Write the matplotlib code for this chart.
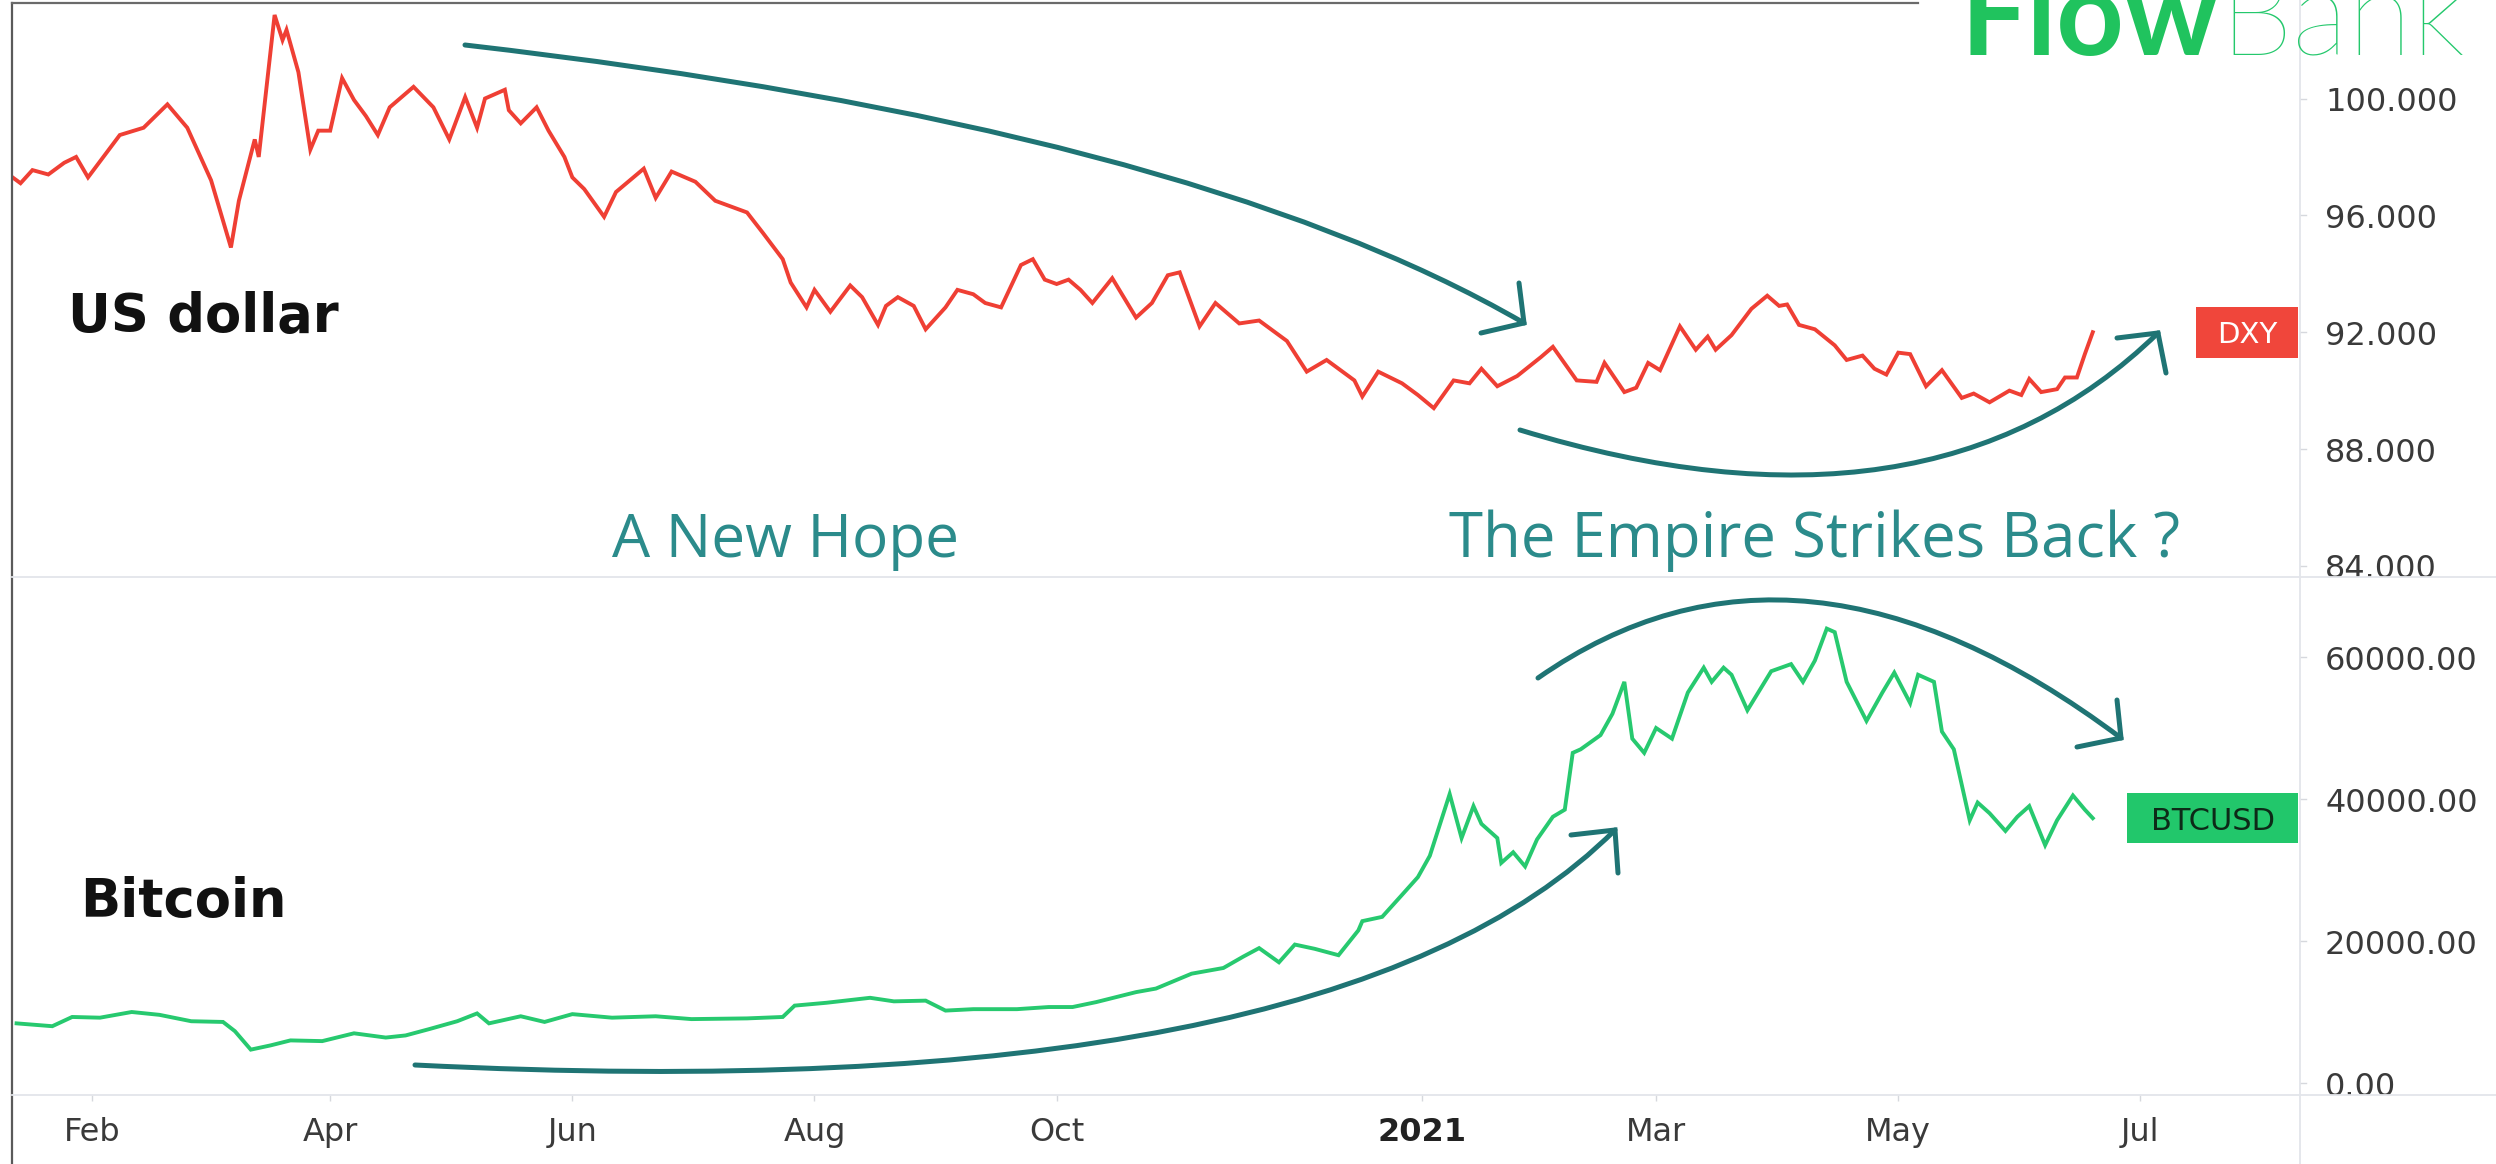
import matplotlib
matplotlib.use('Agg')
import matplotlib.pyplot as plt
import matplotlib.dates as mdates
import matplotlib.transforms as mtrans
from matplotlib.path import Path
from matplotlib.patches import PathPatch, Rectangle
from matplotlib.lines import Line2D
import pandas as pd

# ---------------- data ----------------
dxy_dates = [
    '2020-01-12', '2020-01-14', '2020-01-17', '2020-01-21', '2020-01-25', '2020-01-28', '2020-01-31',
    '2020-02-08', '2020-02-14', '2020-02-20', '2020-02-25', '2020-03-02', '2020-03-07', '2020-03-09',
    '2020-03-13', '2020-03-14', '2020-03-18', '2020-03-20', '2020-03-21', '2020-03-24', '2020-03-27',
    '2020-03-29', '2020-04-01', '2020-04-04', '2020-04-07', '2020-04-10', '2020-04-13', '2020-04-16',
    '2020-04-22', '2020-04-27', '2020-05-01', '2020-05-05', '2020-05-08', '2020-05-10', '2020-05-15',
    '2020-05-16', '2020-05-19', '2020-05-23', '2020-05-26', '2020-05-30', '2020-06-01', '2020-06-04',
    '2020-06-09', '2020-06-12', '2020-06-19', '2020-06-22', '2020-06-26', '2020-07-02', '2020-07-07',
    '2020-07-15', '2020-07-19', '2020-07-24', '2020-07-26', '2020-07-30', '2020-08-01', '2020-08-05',
    '2020-08-10', '2020-08-13', '2020-08-17', '2020-08-19', '2020-08-22', '2020-08-26', '2020-08-29',
    '2020-09-03', '2020-09-06', '2020-09-10', '2020-09-13', '2020-09-17', '2020-09-22', '2020-09-25',
    '2020-09-28', '2020-10-01', '2020-10-04', '2020-10-07', '2020-10-10', '2020-10-15', '2020-10-21',
    '2020-10-25', '2020-10-29', '2020-11-01', '2020-11-06', '2020-11-10', '2020-11-16', '2020-11-21',
    '2020-11-28', '2020-12-03', '2020-12-08', '2020-12-15', '2020-12-17', '2020-12-21', '2020-12-27',
    '2020-12-31', '2021-01-04', '2021-01-09', '2021-01-13', '2021-01-16', '2021-01-20', '2021-01-25',
    '2021-01-31', '2021-02-03', '2021-02-09', '2021-02-14', '2021-02-16', '2021-02-21', '2021-02-24',
    '2021-02-27', '2021-03-02', '2021-03-07', '2021-03-11', '2021-03-14', '2021-03-16', '2021-03-20',
    '2021-03-25', '2021-03-29', '2021-04-01', '2021-04-03', '2021-04-06', '2021-04-10', '2021-04-15',
    '2021-04-18', '2021-04-22', '2021-04-25', '2021-04-28', '2021-05-01', '2021-05-04', '2021-05-08',
    '2021-05-12', '2021-05-17', '2021-05-20', '2021-05-24', '2021-05-29', '2021-06-01', '2021-06-03',
    '2021-06-06', '2021-06-10', '2021-06-12', '2021-06-15', '2021-06-17', '2021-06-19',
]
dxy_values = [
    97.3, 97.1, 97.55, 97.4, 97.8, 98.0, 97.3,
    98.75, 99.0, 99.8, 99.0, 97.2, 94.9, 96.5,
    98.6, 98.0, 102.86, 102.0, 102.35, 100.9, 98.25,
    98.9, 98.9, 100.7, 99.95, 99.4, 98.75, 99.7,
    100.4, 99.7, 98.6, 100.05, 99.0, 100.0, 100.3,
    99.6, 99.15, 99.7, 98.9, 98.0, 97.3, 96.9,
    95.95, 96.8, 97.6, 96.6, 97.5, 97.15, 96.5,
    96.1, 95.4, 94.5, 93.7, 92.85, 93.45, 92.7,
    93.6, 93.2, 92.25, 92.9, 93.2, 92.9, 92.1,
    92.85, 93.45, 93.3, 93.0, 92.85, 94.3, 94.5,
    93.8, 93.65, 93.8, 93.45, 93.0, 93.85, 92.5,
    93.0, 93.95, 94.05, 92.2, 93.0, 92.3, 92.4,
    91.7, 90.65, 91.05, 90.35, 89.8, 90.65, 90.25,
    89.85, 89.4, 90.35, 90.25, 90.75, 90.15, 90.5,
    91.15, 91.5, 90.35, 90.3, 90.95, 89.95, 90.1,
    90.95, 90.7, 92.2, 91.4, 91.85, 91.4, 91.9,
    92.8, 93.25, 92.9, 92.95, 92.25, 92.1, 91.55,
    91.05, 91.2, 90.75, 90.55, 91.3, 91.25, 90.15,
    90.7, 89.75, 89.9, 89.6, 90.0, 89.85, 90.4,
    89.95, 90.05, 90.45, 90.45, 91.25, 92.0,
]

btc_dates = [
    '2020-01-13', '2020-01-22', '2020-01-27', '2020-02-03', '2020-02-11', '2020-02-18', '2020-02-26',
    '2020-03-05', '2020-03-08', '2020-03-12', '2020-03-17', '2020-03-22', '2020-03-30', '2020-04-07',
    '2020-04-15', '2020-04-20', '2020-04-26', '2020-05-03', '2020-05-08', '2020-05-11', '2020-05-19',
    '2020-05-25', '2020-06-01', '2020-06-11', '2020-06-22', '2020-07-01', '2020-07-15', '2020-07-24',
    '2020-07-27', '2020-08-04', '2020-08-15', '2020-08-21', '2020-08-29', '2020-09-03', '2020-09-10',
    '2020-09-21', '2020-09-29', '2020-10-05', '2020-10-11', '2020-10-21', '2020-10-26', '2020-11-04',
    '2020-11-12', '2020-11-17', '2020-11-21', '2020-11-26', '2020-11-30', '2020-12-05', '2020-12-11',
    '2020-12-16', '2020-12-17', '2020-12-22', '2020-12-27', '2020-12-31', '2021-01-03', '2021-01-08',
    '2021-01-11', '2021-01-14', '2021-01-16', '2021-01-20', '2021-01-21', '2021-01-24', '2021-01-27',
    '2021-01-30', '2021-02-03', '2021-02-06', '2021-02-08', '2021-02-10', '2021-02-15', '2021-02-18',
    '2021-02-21', '2021-02-23', '2021-02-26', '2021-03-01', '2021-03-05', '2021-03-09', '2021-03-13',
    '2021-03-15', '2021-03-18', '2021-03-20', '2021-03-24', '2021-03-30', '2021-04-04', '2021-04-07',
    '2021-04-10', '2021-04-13', '2021-04-15', '2021-04-18', '2021-04-23', '2021-04-27', '2021-04-30',
    '2021-05-04', '2021-05-06', '2021-05-10', '2021-05-12', '2021-05-15', '2021-05-17', '2021-05-19',
    '2021-05-21', '2021-05-24', '2021-05-28', '2021-05-31', '2021-06-03', '2021-06-07', '2021-06-10',
    '2021-06-14', '2021-06-17', '2021-06-19',
]
btc_values = [
    8400, 8000, 9300, 9200, 10000, 9600, 8700,
    8600, 7300, 4700, 5300, 6000, 5900, 7000,
    6400, 6700, 7600, 8700, 9800, 8400, 9400,
    8600, 9700, 9200, 9400, 9000, 9100, 9300,
    10900, 11300, 12000, 11500, 11600, 10200, 10400,
    10400, 10700, 10700, 11400, 12800, 13300, 15400,
    16200, 17800, 19000, 17000, 19500, 18900, 18000,
    21500, 22800, 23400, 26500, 29000, 32000, 40700,
    34500, 39000, 36500, 34500, 31000, 32500, 30500,
    34300, 37500, 38500, 46500, 47000, 49000, 52000,
    56500, 48500, 46500, 50000, 48500, 55000, 58500,
    56500, 58500, 57500, 52500, 58000, 59000, 56500,
    59500, 64000, 63500, 56500, 51000, 55000, 57800,
    53500, 57500, 56500, 49500, 47000, 42000, 37000,
    39500, 38000, 35500, 37500, 39000, 33500, 37000,
    40500, 38500, 37300,
]

month_ticks = ['2020-02-01', '2020-04-01', '2020-06-01', '2020-08-01', '2020-10-01',
               '2021-01-01', '2021-03-01', '2021-05-01', '2021-07-01']
month_labels = ['Feb', 'Apr', 'Jun', 'Aug', 'Oct', '2021', 'Mar', 'May', 'Jul']
dxy_ticks = [84, 88, 92, 96, 100]
btc_ticks = [0, 20000, 40000, 60000]

# ---------------- style ----------------
W, H, DPI = 2496, 1164, 100
RED = '#ef3f34'
GREEN = '#27c96f'
TEAL_TXT = '#2b8b8b'
TEAL_ARR = '#1f7474'
LABEL_C = '#3a3a3a'
GRID_C = '#e3e5ea'

fig = plt.figure(figsize=(W / DPI, H / DPI), dpi=DPI)
fig.patch.set_facecolor('white')


def fx(x):
    return x / W


def fy(y):
    return 1 - y / H


PL, PR = 12, 2300
ax1 = fig.add_axes([fx(PL), fy(577), (PR - PL) / W, (577 - 3) / H])
ax2 = fig.add_axes([fx(PL), fy(1095), (PR - PL) / W, (1095 - 577) / H])
ax1p = fig.add_axes([fx(PR), fy(577), (W - PR) / W, (577 - 3) / H])
ax2p = fig.add_axes([fx(PR), fy(1095), (W - PR) / W, (1095 - 577) / H])

x0 = mdates.date2num(pd.Timestamp('2020-02-01'))
xlim = (x0 - 20.15, x0 + 556.2)
ylim1 = (83.62, 103.27)
ylim2 = (-1690, 71270)

ax1.plot(pd.to_datetime(dxy_dates), dxy_values, color=RED, lw=2.8,
         solid_joinstyle='miter', zorder=3)
ax2.plot(pd.to_datetime(btc_dates), btc_values, color=GREEN, lw=2.8,
         solid_joinstyle='miter', zorder=3)

for ax, yl in ((ax1, ylim1), (ax2, ylim2)):
    ax.set_xlim(xlim)
    ax.set_ylim(yl)
    ax.set_facecolor('none')
    for s in ax.spines.values():
        s.set_visible(False)
    ax.set_yticks([])

ax1.set_xticks([])
ax2.set_xticks(pd.to_datetime(month_ticks))
ax2.set_xticklabels(month_labels)
ax2.tick_params(axis='x', direction='out', length=4, width=1, color='#d6d8dd',
                pad=12, labelsize=23, labelcolor=LABEL_C)
for lab in ax2.get_xticklabels():
    if lab.get_text() == '2021':
        lab.set_fontweight('bold')
        lab.set_color('#222222')

# price scales
for axp, yl, ticks, fmt in ((ax1p, ylim1, dxy_ticks, '{:.3f}'), (ax2p, ylim2, btc_ticks, '{:.2f}')):
    axp.set_xlim(0, 1)
    axp.set_ylim(yl)
    axp.axis('off')
    shift = axp.transData + mtrans.ScaledTranslation(0, -4 / DPI, fig.dpi_scale_trans)
    for v in ticks:
        axp.text(0.128, v, fmt.format(v), ha='left', va='center', fontsize=23,
                 color=LABEL_C, clip_on=True, transform=shift)
        axp.plot([0, 0.03], [v, v], color='#d6d8dd', lw=1)

# frame lines
fig.add_artist(Line2D([fx(PL), fx(PL)], [fy(3), 0], color='#5a5a5a', lw=1.6, transform=fig.transFigure))
fig.add_artist(Line2D([fx(PL), fx(1918)], [fy(3), fy(3)], color='#6a6a6a', lw=1.6, transform=fig.transFigure))
fig.add_artist(Line2D([fx(PR), fx(PR)], [1, 0], color=GRID_C, lw=1.3, transform=fig.transFigure))
fig.add_artist(Line2D([fx(PL), 1], [fy(577), fy(577)], color=GRID_C, lw=1.3, transform=fig.transFigure))
fig.add_artist(Line2D([fx(PL), 1], [fy(1095), fy(1095)], color=GRID_C, lw=1.3, transform=fig.transFigure))


# last value boxes
def last_box(ax, value, text, fc, tc, xl_px, xr_px, h_px, fs, weight):
    ppd = ax.bbox.height / (ax.get_ylim()[1] - ax.get_ylim()[0])
    h = h_px / ppd
    trans = mtrans.blended_transform_factory(ax.transAxes, ax.transData)
    a = (xl_px - PL) / (PR - PL)
    b = (xr_px - PL) / (PR - PL)
    ax.add_patch(Rectangle((a, value - h / 2), b - a, h, transform=trans, fc=fc,
                           ec='none', clip_on=False, zorder=5))
    ax.text((a + b) / 2, value, text, transform=trans, ha='center', va='center_baseline',
            color=tc, fontsize=fs, fontweight=weight, zorder=6)


last_box(ax1, dxy_values[-1], 'DXY', '#f0463b', 'white', 2196, 2298, 51, 21, 'normal')
last_box(ax2, btc_values[-1], 'BTCUSD', '#22c76b', '#0d2a18', 2127, 2298, 50, 22, 'normal')

# pane titles and captions
ax1.text((68 - PL) / (PR - PL), (577 - 332) / 574, 'US dollar', transform=ax1.transAxes,
         fontsize=38, fontweight='bold', color='#111111', ha='left', va='baseline')
ax2.text((80 - PL) / (PR - PL), (1095 - 917) / 518, 'Bitcoin', transform=ax2.transAxes,
         fontsize=38, fontweight='bold', color='#111111', ha='left', va='baseline')
ax1.text((785 - PL) / (PR - PL), (577 - 557) / 574, 'A New Hope', transform=ax1.transAxes,
         fontsize=43.5, family='Open Sans', color=TEAL_TXT, ha='center', va='baseline')
ax1.text((1815 - PL) / (PR - PL), (577 - 557) / 574, 'The Empire Strikes Back ?',
         transform=ax1.transAxes, fontsize=44.5, family='Open Sans', color=TEAL_TXT,
         ha='center', va='baseline')

# logo
fig.text(fx(1961), fy(55), 'Flow', fontsize=85, family='Lato', fontweight='bold',
         color='#20c35e', ha='left', va='baseline')
fig.text(fx(2219), fy(55), 'Bank', fontsize=85, family='Lato', fontweight='light',
         color='#24c86c', ha='left', va='baseline')


# hand-drawn style arrows
def p(pt):
    return (fx(pt[0]), fy(pt[1]))


def arrow(S, C, E, arm1, arm2):
    path = Path([p(S), p(C), p(E)], [Path.MOVETO, Path.CURVE3, Path.CURVE3])
    fig.add_artist(PathPatch(path, fill=False, ec=TEAL_ARR, lw=3.6, capstyle='round',
                             transform=fig.transFigure))
    xs = [p(arm1)[0], p(E)[0], p(arm2)[0]]
    ys = [p(arm1)[1], p(E)[1], p(arm2)[1]]
    fig.add_artist(Line2D(xs, ys, color=TEAL_ARR, lw=3.6, solid_capstyle='round',
                          solid_joinstyle='miter', transform=fig.transFigure))


arrow((465, 45), (1188, 128), (1524, 323), (1519, 283), (1481, 333))
arrow((1520, 430), (1930, 555), (2158, 333), (2117, 338), (2166, 373))
arrow((415, 1065), (1334, 1111), (1615, 830), (1571, 835), (1618, 873))
arrow((1538, 678), (1798, 496), (2121, 738), (2117, 700), (2077, 747))

fig.savefig('out.png', dpi=DPI, facecolor='white')
